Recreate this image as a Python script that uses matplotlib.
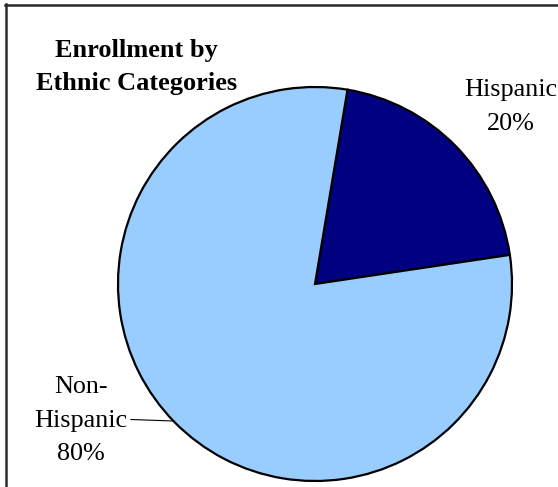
import matplotlib
matplotlib.use("Agg")
import matplotlib.pyplot as plt
from matplotlib.lines import Line2D

# Enrollment shares by ethnic category (percent)
categories = ["Hispanic", "Non-Hispanic"]
label_text = ["Hispanic", "Non-\nHispanic"]
values = [20, 80]
colors = ["#000080", "#99CCFF"]
title_text = "Enrollment by\nEthnic Categories"

W, H = 558, 487
fig = plt.figure(figsize=(W / 100, H / 100), dpi=100)
ax = fig.add_axes([0, 0, 1, 1])
ax.set_xlim(0, W)
ax.set_ylim(0, H)
ax.set_aspect("equal")
ax.axis("off")

cx, cy, r = 315, H - 284, 197
ax.pie(values, colors=colors, startangle=80.5, counterclock=False,
       center=(cx, cy), radius=r, frame=True,
       wedgeprops=dict(edgecolor="black", linewidth=1.6))
ax.set_xlim(0, W)
ax.set_ylim(0, H)
ax.axis("off")

serif = ["Liberation Serif", "DejaVu Serif"]
fs = 18.8

# Title
ax.text(136.5, H - 67, title_text, ha="center", va="center", fontsize=19,
        fontweight="bold", family=serif, linespacing=1.55)

# Slice labels
ax.text(511, H - 107, f"{label_text[0]}\n{values[0]}%", ha="center",
        va="center", fontsize=fs, family=serif, linespacing=1.7)
ax.text(81, H - 420.5, f"{label_text[1]}\n{values[1]}%", ha="center",
        va="center", fontsize=fs, family=serif, linespacing=1.7)

# Leader line for the lower-left label
ax.add_line(Line2D([131, 173], [H - 419.5, H - 421], color="black", lw=0.8))

# Chart-area frame (left and top edges)
fig.add_artist(Line2D([5.5 / W, 5.5 / W], [1 - 4 / H, 0], color="#2a2a2a",
                      lw=1.8, transform=fig.transFigure))
fig.add_artist(Line2D([5 / W, 1], [1 - 4.5 / H, 1 - 4.5 / H], color="#2a2a2a",
                      lw=1.8, transform=fig.transFigure))

fig.savefig("out.png", dpi=100, facecolor="white")
